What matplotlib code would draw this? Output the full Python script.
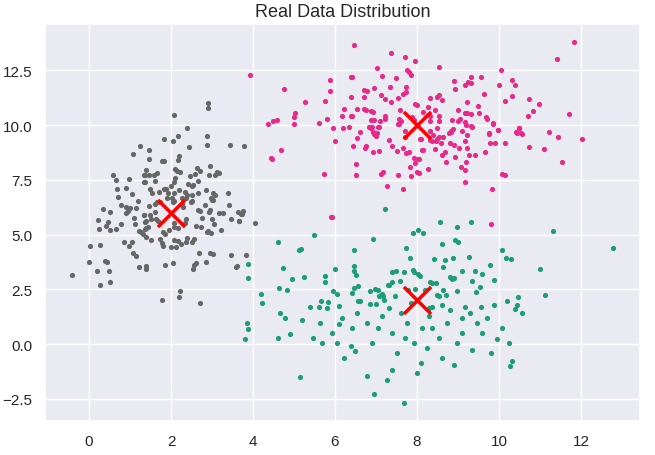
import matplotlib
matplotlib.use("Agg")
import matplotlib.pyplot as plt
import seaborn as sns

# cluster points (x, y)
gray_pts = [
    (1.25, 9.03), (1.08, 8.68), (1.39, 7.94), (0.59, 7.74), (0.98, 7.56), (1.35, 7.71), (0.66, 7.49),
    (1.35, 7.41), (0.68, 7.09), (0.90, 7.12), (2.90, 11.0), (2.90, 10.77), (2.07, 10.45), (2.38, 9.86),
    (1.82, 9.38), (2.16, 9.49), (2.04, 9.29), (2.89, 9.49), (2.88, 9.08), (2.43, 9.02), (3.45, 9.08),
    (1.47, 8.86), (1.47, 8.47), (1.78, 8.38), (1.82, 8.38), (2.20, 8.58), (2.16, 8.39), (1.37, 7.73),
    (1.47, 7.73), (1.59, 7.74), (1.67, 7.83), (2.09, 8.01), (2.15, 7.91), (2.22, 7.85), (1.60, 7.47),
    (1.36, 7.41), (2.10, 7.58), (2.07, 7.39), (2.00, 7.23), (2.46, 7.68), (2.58, 7.76), (2.63, 8.06),
    (2.70, 7.91), (2.95, 8.14), (2.92, 7.71), (3.13, 7.84), (3.17, 7.79), (3.07, 7.73), (2.42, 7.32),
    (2.50, 7.24), (2.54, 7.25), (2.66, 7.44), (1.48, 7.09), (1.54, 6.90), (1.70, 6.94), (1.83, 7.09),
    (1.87, 7.10), (1.93, 6.92), (2.08, 6.90), (2.20, 7.05), (2.34, 6.94), (2.38, 6.83), (2.28, 6.68),
    (2.36, 6.65), (2.51, 6.82), (2.67, 6.90), (2.86, 7.05), (3.02, 6.90), (3.08, 6.82), (2.97, 6.67),
    (3.03, 6.60), (3.39, 6.90), (1.90, 6.67), (2.03, 6.65), (2.07, 6.55), (1.66, 6.49), (2.50, 6.53),
    (0.79, 6.35), (0.89, 6.27), (1.00, 6.20), (1.14, 6.20), (0.50, 6.03), (0.95, 6.09), (0.90, 5.97),
    (1.33, 5.88), (0.21, 5.67), (0.46, 5.58), (0.41, 5.41), (0.78, 5.47), (0.24, 5.24), (0.50, 5.20),
    (0.65, 5.24), (1.11, 5.50), (1.37, 5.58), (1.37, 5.27), (1.21, 5.17), (1.26, 5.11), (1.32, 5.01),
    (0.02, 4.50), (0.26, 4.51), (0.85, 4.65), (0.97, 4.47), (1.05, 4.67), (1.07, 4.17), (1.15, 4.01),
    (0.01, 3.74), (0.39, 3.79), (0.44, 3.74), (0.20, 3.32), (0.49, 3.33), (-0.41, 3.17), (1.21, 3.50),
    (1.38, 3.56), (1.38, 3.44), (0.26, 2.70), (0.51, 2.82), (1.47, 6.30), (1.62, 6.38), (1.73, 6.50),
    (2.04, 6.49), (2.27, 6.41), (2.49, 6.51), (2.84, 6.36), (3.00, 6.59), (3.42, 6.35), (1.35, 5.88),
    (1.49, 5.88), (1.39, 5.62), (1.52, 5.70), (1.64, 5.73), (1.68, 5.62), (1.38, 5.30), (1.44, 5.36),
    (1.39, 4.89), (1.52, 4.76), (1.72, 4.79), (1.81, 5.10), (1.85, 5.04), (1.94, 5.23), (2.07, 5.35),
    (2.17, 5.32), (2.08, 5.51), (1.79, 4.62), (1.80, 4.48), (2.00, 4.42), (2.11, 4.42), (2.07, 4.76),
    (2.17, 4.71), (2.25, 4.55), (2.37, 4.67), (2.40, 4.86), (2.50, 4.67), (2.55, 4.80), (2.37, 5.73),
    (2.34, 5.51), (2.61, 5.39), (2.73, 5.33), (2.87, 5.12), (2.91, 5.16), (2.98, 5.05), (3.04, 5.50),
    (3.00, 5.73), (3.16, 5.99), (3.26, 6.00), (2.92, 6.05), (2.96, 6.12), (2.66, 6.14), (2.70, 6.07),
    (3.22, 5.20), (3.47, 5.73), (3.65, 5.64), (3.71, 5.92), (3.75, 6.09), (2.69, 4.14), (2.94, 4.17),
    (3.02, 4.10), (3.47, 4.08), (3.83, 4.06), (2.60, 3.68), (2.57, 3.62), (2.85, 3.76), (2.54, 3.41),
    (3.58, 3.51), (1.85, 3.59), (2.04, 3.68), (2.21, 2.41), (2.19, 2.17), (1.77, 2.03), (2.70, 1.88),
    (3.64, 6.01), (3.73, 5.95), (3.65, 5.62), (4.04, 5.51), (3.61, 3.55), (3.77, 9.05), (1.05, 6.85),
    (1.20, 6.55), (0.70, 6.70), (0.35, 6.15), (1.60, 6.05), (2.30, 6.25), (2.75, 5.75), (1.10, 5.75),
]

pink_pts = [
    (6.47, 13.64), (3.93, 12.29), (5.87, 12.06), (6.40, 12.21), (4.76, 11.64), (5.89, 11.56), (5.26, 11.05),
    (5.75, 11.10), (6.38, 11.27), (6.22, 10.74), (6.54, 10.74), (5.02, 10.53), (4.99, 10.35), (6.16, 10.40),
    (6.39, 10.42), (5.80, 10.30), (4.36, 10.03), (4.50, 10.17), (4.58, 10.23), (4.99, 10.05), (5.61, 10.09),
    (5.96, 9.86), (6.20, 9.86), (6.35, 9.92), (7.37, 13.27), (7.72, 13.12), (7.96, 12.95), (8.53, 12.65),
    (7.02, 12.59), (7.76, 12.53), (7.80, 12.43), (7.85, 12.27), (7.15, 12.24), (7.50, 12.17), (6.41, 12.20),
    (8.90, 12.00), (9.25, 11.95), (9.33, 11.90), (6.78, 11.58), (6.72, 11.62), (6.94, 11.71), (7.35, 11.74),
    (7.74, 11.75), (7.74, 11.53), (7.66, 11.44), (7.12, 11.36), (7.22, 11.21), (7.54, 11.23), (6.72, 11.30),
    (7.37, 11.06), (8.93, 11.67), (9.18, 11.82), (9.22, 11.06), (8.31, 11.26), (8.50, 11.30), (8.53, 11.36),
    (8.62, 11.15), (7.95, 10.97), (8.00, 10.93), (8.26, 10.83), (8.43, 10.70), (7.59, 10.68), (6.71, 10.74),
    (6.75, 10.71), (6.89, 10.65), (6.92, 10.59), (7.23, 10.42), (7.21, 10.30), (6.87, 10.23), (6.95, 10.23),
    (7.09, 10.21), (6.41, 10.42), (7.57, 10.26), (7.62, 10.18), (7.55, 10.05), (7.88, 10.38), (7.92, 10.23),
    (8.15, 10.62), (8.31, 10.42), (8.53, 10.42), (8.53, 10.18), (8.33, 10.17), (8.85, 10.23), (8.99, 10.20),
    (9.05, 10.27), (9.01, 10.68), (9.18, 10.55), (9.32, 10.50), (6.87, 9.89), (6.91, 9.92), (7.07, 9.92),
    (6.61, 9.68), (6.93, 9.68), (7.02, 9.64), (7.71, 9.74), (8.32, 9.74), (8.49, 9.89), (8.83, 9.73),
    (8.87, 9.80), (9.20, 10.02), (9.18, 10.14), (11.82, 13.79), (11.41, 13.03), (10.05, 12.50), (9.31, 12.20),
    (9.55, 12.18), (10.32, 12.06), (10.40, 11.83), (9.99, 11.83), (9.63, 11.40), (10.33, 11.33), (10.14, 11.10),
    (10.74, 11.17), (10.98, 10.98), (9.50, 10.86), (10.83, 10.64), (10.70, 10.42), (11.72, 10.49), (9.22, 10.55),
    (9.51, 10.55), (9.68, 10.36), (9.72, 10.28), (9.85, 10.08), (9.33, 9.94), (10.49, 9.89), (9.98, 9.77),
    (10.45, 9.64), (10.55, 9.64), (11.21, 9.70), (9.75, 9.62), (4.68, 8.88), (4.44, 8.52), (4.46, 8.47),
    (5.73, 7.77), (5.91, 5.79), (5.99, 9.26), (6.54, 9.42), (6.43, 9.05), (6.75, 9.05), (6.74, 8.96),
    (6.93, 8.76), (7.08, 8.83), (6.52, 8.23), (6.51, 7.74), (6.96, 9.58), (7.00, 9.52), (6.84, 9.92),
    (6.88, 9.88), (7.06, 9.91), (7.33, 9.32), (7.40, 9.03), (7.52, 8.83), (7.67, 8.97), (7.74, 8.71),
    (7.80, 8.76), (7.71, 9.47), (7.93, 8.49), (8.03, 8.47), (7.94, 8.29), (7.84, 8.10), (8.00, 7.85),
    (8.04, 7.79), (7.86, 7.67), (7.54, 7.70), (7.13, 7.77), (7.17, 7.86), (7.26, 7.23), (7.66, 7.09),
    (7.54, 10.03), (8.07, 9.38), (8.12, 8.88), (8.10, 9.36), (8.14, 8.88), (8.04, 8.47), (8.28, 8.00),
    (8.32, 9.34), (8.36, 9.28), (8.38, 9.56), (8.50, 9.36), (8.46, 9.26), (8.54, 9.45), (8.64, 9.45),
    (8.58, 9.20), (8.45, 8.91), (8.61, 8.64), (8.69, 8.79), (8.71, 8.32), (8.78, 9.64), (8.82, 9.70),
    (8.80, 9.18), (8.91, 9.10), (8.92, 8.53), (9.03, 8.95), (9.10, 9.74), (9.18, 9.29), (9.23, 9.53),
    (9.22, 8.94), (9.28, 8.65), (9.41, 8.62), (9.19, 8.32), (9.07, 8.09), (9.18, 7.97), (9.34, 9.92),
    (9.76, 9.59), (9.78, 9.18), (9.90, 9.18), (9.66, 8.79), (9.98, 9.77), (9.85, 10.05), (10.15, 9.17),
    (10.41, 9.67), (10.50, 9.89), (10.57, 9.59), (10.73, 8.98), (11.10, 8.89), (11.45, 9.47), (12.02, 9.36),
    (11.53, 8.32), (10.08, 7.77), (10.14, 7.71), (9.17, 7.40), (9.82, 7.08), (9.80, 5.50), (5.92, 5.80),
]

green_pts = [
    (3.88, 3.67), (3.87, 3.03), (7.21, 6.15), (8.56, 5.58), (9.33, 5.59), (5.50, 5.00), (4.62, 4.64),
    (5.13, 4.30), (5.17, 4.36), (6.46, 4.29), (4.72, 3.48), (5.99, 3.42), (6.46, 3.58), (6.46, 3.35),
    (6.52, 3.14), (5.76, 3.10), (5.24, 3.05), (4.95, 2.95), (5.75, 2.83), (6.57, 2.65), (6.47, 2.55),
    (4.63, 2.56), (4.83, 2.49), (5.95, 2.44), (6.05, 2.29), (6.41, 2.32), (4.20, 2.29), (5.67, 1.97),
    (5.84, 1.94), (6.57, 1.99), (6.62, 1.99), (6.09, 1.74), (5.39, 1.68), (5.60, 1.68), (8.97, 5.35),
    (7.90, 5.09), (8.03, 5.23), (8.15, 5.06), (6.93, 4.80), (8.60, 4.59), (8.92, 4.76), (9.01, 4.65),
    (7.74, 4.41), (7.82, 3.94), (8.42, 3.88), (8.69, 3.83), (8.88, 3.92), (9.26, 3.97), (8.64, 3.51),
    (7.48, 3.36), (7.38, 3.27), (7.68, 3.27), (7.90, 3.38), (7.92, 3.30), (8.02, 3.18), (8.08, 3.10),
    (9.11, 3.32), (9.42, 3.35), (9.59, 3.18), (9.77, 3.62), (7.30, 2.68), (7.33, 2.72), (7.40, 2.82),
    (7.59, 2.89), (8.32, 2.85), (8.36, 2.78), (8.46, 2.77), (8.80, 3.05), (8.85, 2.96), (8.90, 3.03),
    (9.34, 2.88), (9.54, 2.62), (9.43, 2.36), (8.98, 2.41), (8.64, 2.48), (8.71, 2.23), (8.48, 2.24),
    (8.54, 2.21), (7.95, 2.51), (7.78, 2.45), (8.20, 2.45), (6.85, 2.42), (6.98, 2.53), (7.04, 2.47),
    (7.15, 2.27), (7.08, 2.18), (7.18, 2.18), (7.20, 2.00), (7.47, 2.21), (6.85, 1.83), (7.00, 1.83),
    (7.31, 1.67), (7.86, 1.86), (8.36, 1.71), (8.30, 1.65), (8.61, 1.80), (9.18, 1.71), (9.57, 1.71),
    (11.32, 5.15), (12.78, 4.41), (10.08, 4.29), (10.17, 3.92), (10.30, 3.88), (11.00, 3.45), (9.87, 2.92),
    (11.13, 2.24), (10.46, 2.17), (10.19, 1.97), (10.43, 1.77), (10.40, 1.62), (9.89, 1.77), (3.85, 0.95),
    (3.88, 0.68), (3.80, 0.23), (4.66, 1.41), (4.90, 0.45), (5.15, -1.50), (5.20, 1.10), (5.46, 0.27),
    (5.68, 0.05), (6.05, 0.05), (6.17, 1.18), (6.41, 0.73), (6.50, -0.32), (6.78, -1.45), (6.95, -2.30),
    (7.27, -1.64), (7.68, -2.68), (7.51, -0.41), (7.93, 0.05), (8.37, 0.73), (8.11, -0.86), (8.73, 0.95),
    (8.98, 0.05), (8.61, -0.64), (9.34, -0.27), (9.59, 0.50), (10.07, 0.73), (10.24, 0.05), (10.32, -0.77),
    (10.27, -1.00), (9.80, -0.41), (9.10, 1.18), (7.15, 1.27), (6.78, 0.95), (6.54, 1.41), (5.80, 1.64),
    (5.63, 0.95), (6.90, 0.05), (7.39, 0.50), (7.76, 0.95), (8.12, 0.73), (8.54, 0.27), (9.10, 0.50),
    (9.46, 0.95), (8.90, -0.95), (8.00, -1.32), (7.39, -1.18), (6.22, -0.64), (5.93, 0.50), (10.56, 1.41),
    (4.78, 1.18), (4.22, 1.86), (4.61, 0.27), (7.60, 1.40), (8.30, 1.30), (9.30, 1.40), (6.40, -0.10),
    (7.05, 0.75), (8.80, 1.55), (9.70, 1.20), (7.70, 0.30), (6.10, 0.90), (9.95, 0.25), (8.25, -0.20),
]

centers_x = [2, 8, 8]
centers_y = [6, 10, 2]

sns.set_theme()
plt.rcParams['font.family'] = ['Liberation Sans', 'DejaVu Sans']
fig, ax = plt.subplots(figsize=(6.55, 4.56), dpi=100)
fig.subplots_adjust(left=0.069, right=0.977, top=0.945, bottom=0.075)

for pts, col in [(gray_pts, "#666666"), (pink_pts, "#e7298a"), (green_pts, "#1b9e77")]:
    xs = [p[0] for p in pts]
    ys = [p[1] for p in pts]
    ax.scatter(xs, ys, s=14, color=col, linewidths=0)

ax.scatter(centers_x, centers_y, marker="x", s=380, color="red", linewidths=2.5)
ax.set_title("Real Data Distribution", fontsize=13)
ax.tick_params(labelsize=11)

fig.savefig("out.png")
